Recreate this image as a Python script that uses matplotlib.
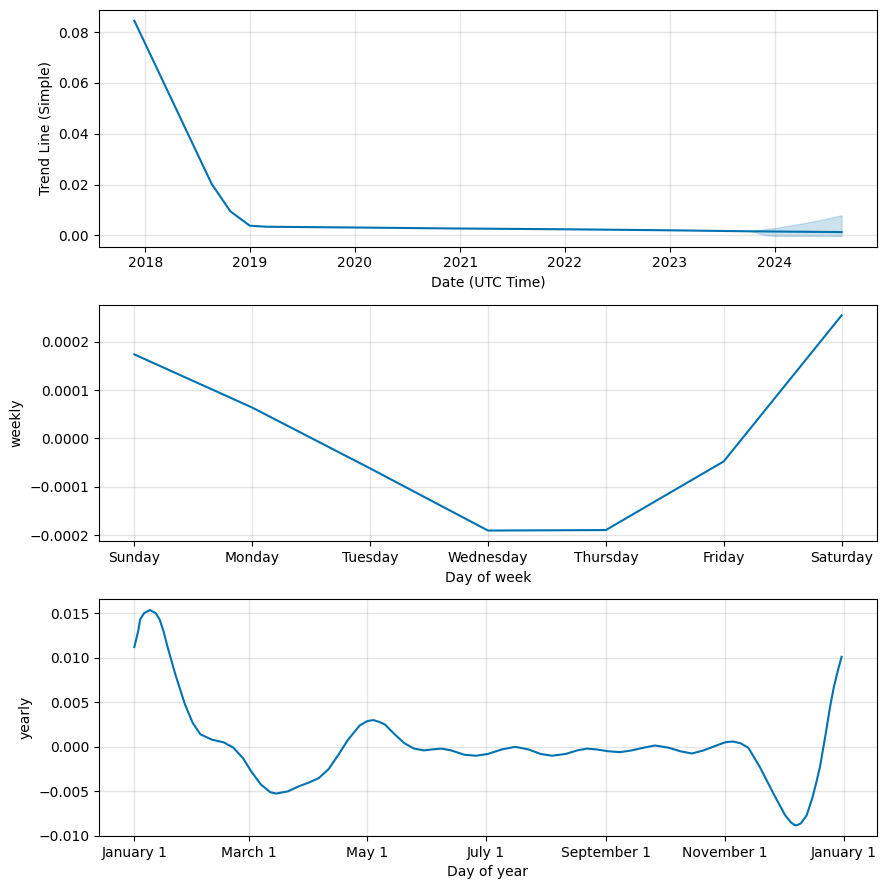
import numpy as np
import pandas as pd
import matplotlib
matplotlib.use("Agg")
import matplotlib.pyplot as plt
from matplotlib.dates import YearLocator, DateFormatter, MonthLocator, num2date
from matplotlib.ticker import FuncFormatter

# trend (piecewise linear knots)
trend_dates = pd.to_datetime(["2017-11-24", "2018-08-20", "2018-10-24", "2018-12-31",
                              "2019-03-01", "2020-01-01", "2021-01-01", "2022-01-01",
                              "2023-01-01", "2023-10-10", "2024-08-21"])
trend_vals = [0.0845, 0.0203, 0.0095, 0.0038, 0.0034, 0.0031, 0.0027, 0.0024,
              0.0020, 0.0016, 0.0013]

# forecast uncertainty band
band_dates = pd.to_datetime(["2023-10-10", "2023-12-01", "2024-01-01", "2024-04-01",
                             "2024-06-15", "2024-08-21"])
band_upper = [0.0016, 0.0025, 0.0029, 0.0046, 0.0062, 0.0079]
band_lower = [0.0016, 0.0001, -0.0002, -0.0002, -0.0002, -0.0002]

# weekly
week_days = ["Sunday", "Monday", "Tuesday", "Wednesday", "Thursday", "Friday", "Saturday"]
weekly_vals = [0.0001735, 0.0000638, -0.0000617, -0.000190, -0.000189, -0.0000473, 0.000254]

# yearly (day of year offset, value)
year_days = [0, 2, 3, 5, 8, 11, 13, 15, 17, 21, 26, 30, 34, 40, 46, 51, 56, 60, 65, 70, 73,
             79, 85, 90, 95, 100, 105, 110, 116, 120, 123, 126, 129, 134, 139, 144, 149, 153,
             158, 163, 170, 176, 182, 189, 196, 203, 209, 215, 222, 228, 233, 238, 244, 250,
             256, 262, 268, 275, 281, 287, 293, 299, 304, 308, 312, 316, 322, 326, 330, 335,
             338, 340, 341, 343, 346, 349, 351, 353, 356, 358, 360, 362, 364]
yearly_vals = [0.0112, 0.0130, 0.0143, 0.0150, 0.01535, 0.0150, 0.0143, 0.0130, 0.0113,
               0.0082, 0.0048, 0.0027, 0.0014, 0.0008, 0.0005, -0.0001, -0.0013, -0.0027,
               -0.0042, -0.0051, -0.00525, -0.0050, -0.0044, -0.0040, -0.0035, -0.0025,
               -0.0009, 0.0008, 0.0024, 0.0029, 0.0030, 0.0028, 0.0025, 0.0014, 0.0004,
               -0.0002, -0.0004, -0.0003, -0.0002, -0.0004, -0.0009, -0.0010, -0.0008,
               -0.0003, 0.0000, -0.0003, -0.0008, -0.0010, -0.0008, -0.0004, -0.0002,
               -0.0003, -0.0005, -0.0006, -0.0004, -0.0001, 0.00015, -0.0001, -0.0005,
               -0.00075, -0.0004, 0.0001, 0.0005, 0.0006, 0.0004, -0.0001, -0.0023, -0.0040,
               -0.0057, -0.0077, -0.0085, -0.0088, -0.0088, -0.0086, -0.0077, -0.0057,
               -0.0040, -0.0021, 0.0017, 0.0044, 0.0067, 0.0085, 0.0101]

color = "#0072B2"

fig, axes = plt.subplots(3, 1, figsize=(8.86, 8.9), dpi=100)
fig.subplots_adjust(left=0.1117, right=0.9898, top=0.9888, bottom=0.0607, hspace=0.245)

# trend panel
ax = axes[0]
ax.plot(trend_dates, trend_vals, ls="-", c=color)
ax.fill_between(band_dates, band_lower, band_upper, color=color, alpha=0.2)
ax.xaxis.set_major_locator(YearLocator())
ax.xaxis.set_major_formatter(DateFormatter("%Y"))
ax.grid(True, which="major", c="gray", ls="-", lw=1, alpha=0.2)
ax.set_xlabel("Date (UTC Time)")
ax.set_ylabel("Trend Line (Simple)")

# weekly panel
ax = axes[1]
ax.plot(range(len(week_days)), weekly_vals, ls="-", c=color)
ax.set_xticks(range(len(week_days)))
ax.set_xticklabels(week_days)
ax.grid(True, which="major", c="gray", ls="-", lw=1, alpha=0.2)
ax.set_xlabel("Day of week")
ax.set_ylabel("weekly")

# yearly panel
ax = axes[2]
ydates = pd.Timestamp("2017-01-01") + pd.to_timedelta(year_days, unit="D")
ax.plot(ydates, yearly_vals, ls="-", c=color)
ax.xaxis.set_major_locator(MonthLocator(bymonth=range(1, 13, 2)))
ax.xaxis.set_major_formatter(FuncFormatter(
    lambda x, pos=None: "{dt:%B} {dt.day}".format(dt=num2date(x))))
ax.grid(True, which="major", c="gray", ls="-", lw=1, alpha=0.2)
ax.set_xlabel("Day of year")
ax.set_ylabel("yearly")

fig.savefig("out.png")
